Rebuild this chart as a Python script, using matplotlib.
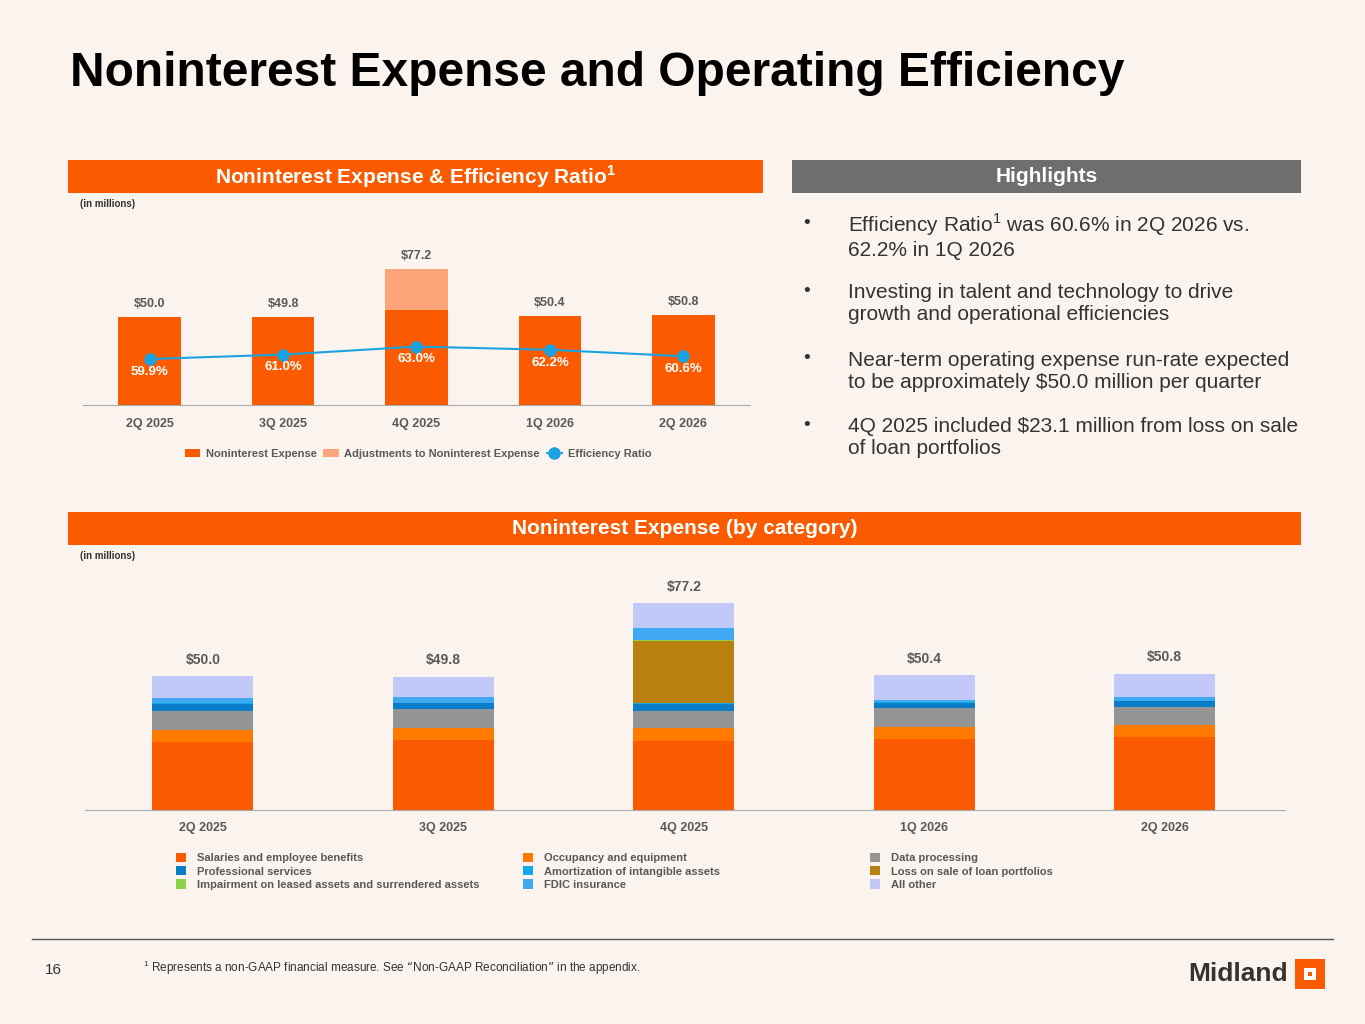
import matplotlib
matplotlib.use("Agg")
import matplotlib.pyplot as plt
import numpy as np

plt.rcParams['font.family'] = ['Liberation Sans', 'DejaVu Sans']

quarters = ["2Q 2025", "3Q 2025", "4Q 2025", "1Q 2026", "2Q 2026"]
nonint_exp = [50.0, 49.8, 54.1, 50.4, 50.8]
adjustments = [0, 0, 23.1, 0, 0]
totals = [50.0, 49.8, 77.2, 50.4, 50.8]
eff_ratio = [59.9, 61.0, 63.0, 62.2, 60.6]

cat_names = ["Salaries and employee benefits", "Professional services",
             "Impairment on leased assets and surrendered assets",
             "Occupancy and equipment", "Amortization of intangible assets", "FDIC insurance",
             "Data processing", "Loss on sale of loan portfolios", "All other"]
salaries = [25.5, 26.1, 25.9, 26.4, 27.4]
occupancy = [4.4, 4.6, 4.6, 4.4, 4.2]
data_proc = [7.2, 7.1, 6.6, 7.1, 7.0]
professional = [2.5, 2.0, 2.5, 2.0, 1.9]
amortization = [0.3, 0.3, 0.3, 0.3, 0.3]
loss_sale = [0, 0, 23.1, 0, 0]
impairment = [0, 0, 0.5, 0, 0]
fdic = [2.0, 2.2, 4.3, 0.9, 1.2]
all_other = [8.1, 7.5, 9.4, 9.3, 8.8]

BG = "#FBF3EE"
OR = "#FA5A00"
GRAYTXT = "#595959"
fig = plt.figure(figsize=(13.65, 10.24), dpi=100, facecolor=BG)

def fx(px): return px / 1365
def fy(py): return 1 - py / 1024

fig.text(fx(70), fy(73), "Noninterest Expense and Operating Efficiency", fontsize=34.5,
         fontweight='bold', color='black', va='center')

def banner(x0, x1, y0, y1, color, text):
    ax = fig.add_axes([fx(x0), fy(y1), fx(x1 - x0), fy(y0) - fy(y1)])
    ax.set_facecolor(color); ax.set_xticks([]); ax.set_yticks([])
    for s in ax.spines.values(): s.set_visible(False)
    ax.text(0.5, 0.5, text, color='white', fontsize=15, fontweight='bold', ha='center', va='center',
            transform=ax.transAxes)

banner(68, 763, 160, 193, OR, r"Noninterest Expense & Efficiency Ratio$^{\mathregular{1}}$")
banner(792, 1301, 160, 193, "#6E6E6E", "Highlights")
banner(68, 1301, 512, 545, OR, "Noninterest Expense (by category)")

fig.text(fx(80), fy(204), "(in millions)", fontsize=7, fontweight='bold', color='#333333', va='center')
fig.text(fx(80), fy(556), "(in millions)", fontsize=7, fontweight='bold', color='#333333', va='center')

# top chart
ax1 = fig.add_axes([fx(83), fy(405), fx(750 - 83), fy(255) - fy(405)])
ax1.set_facecolor(BG)
x = np.arange(len(quarters))
ax1.bar(x, nonint_exp, width=0.47, color=OR, label="Noninterest Expense")
ax1.bar(x, adjustments, bottom=nonint_exp, width=0.47, color="#FCA57A",
        label="Adjustments to Noninterest Expense")
for i, t in enumerate(totals):
    ax1.text(i, t + 4, f"${t:.1f}", ha='center', va='bottom', fontsize=9, fontweight='bold', color=GRAYTXT)
ax1.set_ylim(0, 85)
ax1.set_xlim(-0.5, 4.5)
ax1.set_yticks([])
ax1.set_xticks(x)
ax1.set_xticklabels(quarters, fontsize=9, fontweight='bold', color=GRAYTXT)
ax1.tick_params(axis='x', length=0, pad=9)
for s in ['top', 'right', 'left']: ax1.spines[s].set_visible(False)
ax1.spines['bottom'].set_color('#AAAAAA')
ax2 = ax1.twinx()
ax2.plot(x, eff_ratio, color="#1AA3E0", marker='o', markersize=8, linewidth=1.5, label="Efficiency Ratio")
ax2.set_ylim(48.4, 85.9)
ax2.axis('off')
for i, r in enumerate(eff_ratio):
    ax2.text(i, r - 1.7, f"{r:.1f}%", ha='center', va='top', fontsize=9.5, fontweight='bold', color='white')
h1, l1 = ax1.get_legend_handles_labels()
h2, l2 = ax2.get_legend_handles_labels()
fig.legend(h1 + h2, l1 + l2, loc='center', bbox_to_anchor=(fx(418), fy(454)), ncol=3, frameon=False,
           prop={'size': 8, 'weight': 'bold'}, labelcolor=GRAYTXT, handlelength=1.4, columnspacing=0.6,
           handletextpad=0.5)

# highlights
bul = [(fy(236), "Efficiency Ratio$^{\\mathregular{1}}$ was 60.6% in 2Q 2026 vs.\n62.2% in 1Q 2026"),
       (fy(304), "Investing in talent and technology to drive\ngrowth and operational efficiencies"),
       (fy(371), "Near-term operating expense run-rate expected\nto be approximately \\$50.0 million per quarter"),
       (fy(438), "4Q 2025 included \\$23.1 million from loss on sale\nof loan portfolios")]
for yy, t in bul:
    fig.text(fx(803), yy + 0.012, "•", fontsize=14, color='#333333', va='center')
    fig.text(fx(848), yy, t, fontsize=15, color='#333333', va='center', linespacing=1.2)

# bottom chart
ax3 = fig.add_axes([fx(85), fy(810), fx(1285 - 85), fy(575) - fy(810)])
ax3.set_facecolor(BG)
series = [(salaries, "#FA5A00", cat_names[0]), (occupancy, "#FF7A00", cat_names[3]),
          (data_proc, "#959595", cat_names[6]), (professional, "#0A7DC8", cat_names[1]),
          (amortization, "#14A8E6", cat_names[4]), (loss_sale, "#B8800F", cat_names[7]),
          (impairment, "#8ED14A", cat_names[2]), (fdic, "#3FAAF2", cat_names[5]),
          (all_other, "#C2C8F8", cat_names[8])]
bottom = np.zeros(5)
handles = {}
for vals, col, name in series:
    b = ax3.bar(x, vals, bottom=bottom, width=0.42, color=col, label=name)
    handles[name] = b
    bottom += np.array(vals)
for i, t in enumerate(totals):
    ax3.text(i, t + 3.5, f"${t:.1f}", ha='center', va='bottom', fontsize=10, fontweight='bold', color=GRAYTXT)
ax3.set_ylim(0, 87.7)
ax3.set_xlim(-0.49, 4.5)
ax3.set_yticks([])
ax3.set_xticks(x)
ax3.set_xticklabels(quarters, fontsize=9, fontweight='bold', color=GRAYTXT)
ax3.tick_params(axis='x', length=0, pad=9)
for s in ['top', 'right', 'left']: ax3.spines[s].set_visible(False)
ax3.spines['bottom'].set_color('#AAAAAA')
for k, xl in enumerate([176, 523, 870]):
    names = cat_names[3 * k:3 * k + 3]
    leg = fig.legend([handles[n] for n in names], names, loc='upper left',
                     bbox_to_anchor=(fx(xl), fy(853)), frameon=False, borderaxespad=0, borderpad=0,
                     prop={'size': 8, 'weight': 'bold'}, labelcolor=GRAYTXT,
                     handlelength=0.9, handleheight=0.9, handletextpad=1.0, labelspacing=0.25)

# footer
fig.add_artist(plt.Line2D([fx(32), fx(1333)], [fy(939), fy(939)], color='#555555', linewidth=1))
fig.text(fx(45), fy(970), "16", fontsize=11, color='#333333', va='center')
fig.text(fx(143), fy(968), "$^{\\mathregular{1}}$ Represents a non-GAAP financial measure. See \u201cNon-GAAP Reconciliation\u201d in the appendix.",
         fontsize=8.5, color='#333333', va='center')
fig.text(fx(1288), fy(974), "Midland", fontsize=19, fontweight='bold', color='#333333', va='center', ha='right')
lax = fig.add_axes([fx(1295), fy(989), fx(30), fy(959) - fy(989)])
lax.set_facecolor(OR); lax.set_xticks([]); lax.set_yticks([])
for s in lax.spines.values(): s.set_visible(False)
lax.add_patch(plt.Rectangle((0.3, 0.3), 0.4, 0.4, facecolor='white', edgecolor='none'))
lax.add_patch(plt.Rectangle((0.42, 0.42), 0.16, 0.16, facecolor=OR, edgecolor='none'))

fig.savefig("out.png", dpi=100, facecolor=BG)
